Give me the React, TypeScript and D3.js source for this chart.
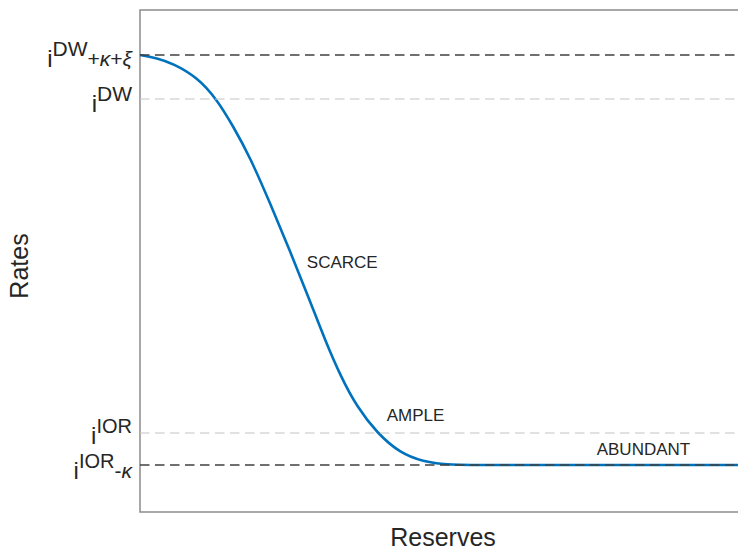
import { useEffect, useRef } from "react";
import { curveBasis, line, scaleLinear, select } from "d3";

// curve (reserves and rates in arbitrary units)
const reserves = [
    0, 2.84, 5.52, 9.53, 12.88, 15.55, 18.39, 21.74, 25.08, 28.43, 30.94, 33.61,
    36.29, 39.63, 43.48, 47.32, 51.34, 60.2, 100
];
const rates = [
    91.04, 90.44, 89.34, 86.65, 82.17, 76.89, 70.72, 61.55, 51.99, 42.03, 34.26,
    26.89, 20.92, 15.74, 11.75, 10.06, 9.36, 9.36, 9.36
];

// reference rate levels (dashed lines)
const levelValues = [91.04, 82.27, 15.74, 9.36];
const levelDark = [true, false, false, true];
const levelBase = ["DW", "DW", "IOR", "IOR"];
const levelTail = [["+", "κ", "+", "ξ"], [], [], ["-", "κ"]];

// regime annotations
const regimeLabels = ["SCARCE", "AMPLE", "ABUNDANT"];
const regimeX = [27.9, 41.25, 76.37];
const regimeY = [48.6, 18.19, 11.35];

const W = 738;
const H = 550;
const margin = { top: 10, right: 0, bottom: 38, left: 140 };
const FONT = "'Liberation Sans', Arial, Helvetica, sans-serif";
const TEXT = "#262626";

export default function App() {
    const ref = useRef<SVGSVGElement>(null);

    useEffect(() => {
        if (!ref.current) return;
        const svg = select(ref.current);
        svg.selectAll("*").remove();

        const x = scaleLinear().domain([0, 100]).range([margin.left, W - margin.right]);
        const y = scaleLinear().domain([0, 100]).range([H - margin.bottom, margin.top]);

        // axes box (top, left, bottom)
        svg.append("path")
            .attr("d", `M${W},${margin.top}H${margin.left}V${H - margin.bottom}H${W}`)
            .attr("fill", "none")
            .attr("stroke", "#8c8c8c")
            .attr("stroke-width", 1.5);

        const pts = reserves.map((r, i) => [r, rates[i]] as [number, number]);
        const path = line<[number, number]>()
            .x((d) => x(d[0]))
            .y((d) => y(d[1]))
            .curve(curveBasis);

        svg.append("path")
            .attr("d", path(pts) ?? "")
            .attr("fill", "none")
            .attr("stroke", "#0072BD")
            .attr("stroke-width", 2.6);

        levelValues.forEach((v, i) => {
            svg.append("line")
                .attr("x1", margin.left)
                .attr("x2", W)
                .attr("y1", y(v))
                .attr("y2", y(v))
                .attr("stroke", levelDark[i] ? "#404040" : "#c4c4c4")
                .attr("stroke-width", levelDark[i] ? 1.3 : 1.2)
                .attr("stroke-dasharray", "9.5,5.5");

            // the two low labels sit close together; nudge them apart a little
            const nudge = i === 2 ? -1.5 : i === 3 ? 1 : 0;
            const supSize = levelBase[i] === "IOR" ? 20 : 21;
            const t = svg.append("text")
                .attr("x", 132)
                .attr("y", y(v) + 12.5 + nudge)
                .attr("text-anchor", "end")
                .attr("font-family", FONT)
                .attr("fill", TEXT);
            t.append("tspan").attr("font-size", 24).text("i");
            t.append("tspan").attr("font-size", supSize).attr("dy", -11).text(levelBase[i]);
            levelTail[i].forEach((c, j) => {
                const s = t.append("tspan")
                    .attr("font-size", 21)
                    .attr("font-style", c === "+" || c === "-" ? "normal" : "italic")
                    .text(c);
                if (j === 0) s.attr("dy", 10);
            });
        });

        regimeLabels.forEach((s, i) => {
            svg.append("text")
                .attr("x", x(regimeX[i]))
                .attr("y", y(regimeY[i]))
                .attr("font-family", FONT)
                .attr("font-size", 17)
                .attr("fill", TEXT)
                .text(s);
        });

        svg.append("text")
            .attr("x", 443)
            .attr("y", 546)
            .attr("text-anchor", "middle")
            .attr("font-family", FONT)
            .attr("font-size", 25)
            .attr("fill", TEXT)
            .text("Reserves");

        svg.append("text")
            .attr("transform", "translate(28,266) rotate(-90)")
            .attr("text-anchor", "middle")
            .attr("font-family", FONT)
            .attr("font-size", 25)
            .attr("fill", TEXT)
            .text("Rates");
    }, []);

    return (
        <svg
            ref={ref}
            width={W}
            height={H}
            style={{ position: "fixed", top: 0, left: 0, background: "#fff" }}
        />
    );
}
